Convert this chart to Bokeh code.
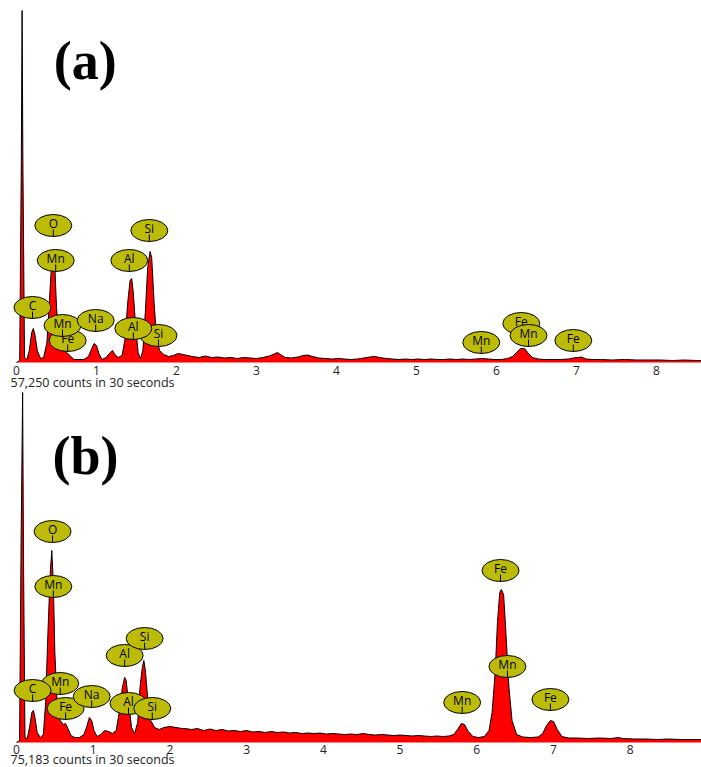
from bokeh.plotting import figure
from bokeh.models import Range1d, Label, FixedTicker
from bokeh.layouts import column
from bokeh.embed import file_html
from bokeh.resources import INLINE

# ---------------- data (energy keV, counts in relative units) ----------------
E_A = [0.00, 0.04, 0.06, 0.07, 0.08, 0.10, 0.13, 0.16, 0.19, 0.21, 0.23, 0.26, 0.30, 0.34,
       0.38, 0.41, 0.44, 0.46, 0.48, 0.50, 0.53, 0.56, 0.60, 0.64, 0.68, 0.72, 0.78, 0.84,
       0.90, 0.94, 0.97, 1.00, 1.03, 1.07, 1.12, 1.16, 1.20, 1.23, 1.27, 1.32, 1.36, 1.39,
       1.42, 1.44, 1.46, 1.49, 1.52, 1.55, 1.58, 1.61, 1.64, 1.67, 1.69, 1.72, 1.75, 1.79,
       1.84, 1.90, 1.96, 2.02, 2.08, 2.14,
       2.20, 2.28, 2.36, 2.44, 2.52, 2.60, 2.68, 2.76, 2.84, 2.92, 3.00, 3.08, 3.16, 3.22,
       3.26, 3.30, 3.36, 3.44, 3.52, 3.58, 3.64, 3.70, 3.78, 3.86, 3.94, 4.02, 4.10, 4.18,
       4.26, 4.34, 4.42, 4.48, 4.54, 4.62, 4.70, 4.78, 4.86, 4.94, 5.02, 5.10, 5.18, 5.26,
       5.34, 5.42, 5.50, 5.58, 5.66, 5.74, 5.82, 5.90, 5.98, 6.06, 6.14, 6.20, 6.25, 6.30,
       6.35, 6.40, 6.45, 6.52, 6.60, 6.70, 6.80, 6.90, 6.96, 7.02, 7.06, 7.12, 7.20, 7.30,
       7.45, 7.60, 7.75, 7.90, 8.05, 8.20, 8.35, 8.50, 8.60]
C_A = [0, 2, 200, 352, 200, 5, 3, 12, 30, 34, 28, 12, 4, 5,
       20, 60, 100, 113, 95, 55, 25, 16, 12, 9, 6, 3, 3, 3,
       6, 14, 19, 17, 9, 3, 5, 9, 12, 8, 5, 7, 25, 60,
       82, 84, 70, 35, 10, 4, 12, 50, 95, 111, 105, 60, 25, 12,
       8, 6, 7, 9, 8, 7,
       6, 5, 6.5, 5, 5.5, 4.5, 5, 4, 5, 4.5, 4, 5, 6.5, 8.5,
       10, 8, 5, 4.5, 5.5, 7, 7.5, 6, 4.5, 4, 3.5, 4, 3.5, 3,
       3.5, 4.5, 5.5, 6, 5, 4, 3.5, 3, 3.5, 3, 3.5, 3, 3.5, 3,
       3, 3.5, 3, 3.5, 3, 3.5, 4, 3.5, 3, 3, 4, 6, 10, 14,
       14, 9, 5, 3.5, 3, 3, 3, 3.5, 4.5, 5, 5.5, 3.5, 3, 3,
       2.5, 3, 2.5, 2.5, 2.5, 2, 2.5, 2, 2]

E_B = [0.00, 0.04, 0.06, 0.08, 0.09, 0.11, 0.14, 0.17, 0.20, 0.22, 0.24, 0.27, 0.31, 0.35,
       0.38, 0.41, 0.44, 0.46, 0.48, 0.50, 0.53, 0.57, 0.61, 0.64, 0.67, 0.71, 0.76, 0.82,
       0.88, 0.92, 0.95, 0.98, 1.01, 1.05, 1.10, 1.15, 1.20, 1.25, 1.30, 1.35, 1.38, 1.41,
       1.43, 1.46, 1.50, 1.54, 1.58, 1.61, 1.64, 1.66, 1.68, 1.71, 1.75, 1.80, 1.86, 1.92,
       2.00, 2.08, 2.16,
       2.20, 2.28, 2.36, 2.44, 2.52, 2.60, 2.68, 2.76, 2.84, 2.92, 3.00, 3.08, 3.16, 3.24,
       3.32, 3.40, 3.48, 3.56, 3.64, 3.72, 3.80, 3.88, 3.96, 4.04, 4.12, 4.20, 4.28, 4.36,
       4.44, 4.52, 4.60, 4.68, 4.76, 4.84, 4.92, 5.00, 5.08, 5.16, 5.24, 5.32, 5.40, 5.48,
       5.56, 5.64, 5.70, 5.75, 5.80, 5.84, 5.89, 5.95, 6.02, 6.10, 6.16, 6.20, 6.24, 6.27,
       6.30, 6.32, 6.35, 6.38, 6.42, 6.46, 6.52, 6.60, 6.70, 6.80, 6.86, 6.91, 6.96, 7.00,
       7.05, 7.11, 7.20, 7.30, 7.45, 7.60, 7.75, 7.85, 7.90, 8.05, 8.20, 8.35, 8.50, 8.65,
       8.80, 8.95]
C_B = [0, 2, 200, 350, 200, 5, 4, 15, 30, 32, 25, 10, 5, 8,
       40, 110, 170, 192, 160, 90, 40, 22, 18, 19, 14, 7, 5, 5,
       8, 17, 25, 22, 12, 6, 8, 12, 11, 9, 12, 35, 55, 65,
       62, 40, 15, 9, 20, 55, 75, 82, 72, 45, 22, 15, 13, 15,
       16, 15, 14,
       14, 13, 14, 12, 13.5, 12, 13, 11.5, 12, 11, 12, 10.5, 11, 10,
       11, 10, 10.5, 9.5, 10, 9, 9.5, 9, 9.5, 8.5, 9, 8.5, 8, 8.5,
       8, 9, 8, 7.5, 8, 7.5, 7, 7.5, 7, 6.5, 7, 6.5, 6, 6.5,
       6, 6.5, 8, 13, 19, 18, 11, 6, 5, 6, 12, 30, 70, 120,
       150, 153, 148, 110, 55, 22, 8, 5.5, 5, 5.5, 9, 17, 22, 21,
       13, 6, 4.5, 4.5, 4, 4.5, 4, 5, 4, 3.5, 3.5, 3, 3.5, 3,
       3, 3]

# peak labels: element, energy position, label height
LAB_A_EL = ["O", "Mn", "Fe", "C", "Mn", "Na", "Si", "Al", "Al", "Si", "Mn", "Fe", "Mn", "Fe"]
LAB_A_E = [0.46, 0.49, 0.64, 0.20, 0.575, 0.99, 1.775, 1.46, 1.41, 1.66, 5.81, 6.31, 6.40, 6.96]
LAB_A_H = [137, 102, 22, 55, 37, 42, 27, 34, 102, 132, 20, 39, 27, 22]

LAB_B_EL = ["O", "Mn", "Mn", "C", "Fe", "Na", "Al", "Si", "Al", "Si", "Mn", "Fe", "Mn", "Fe"]
LAB_B_E = [0.47, 0.48, 0.57, 0.21, 0.64, 0.98, 1.46, 1.77, 1.41, 1.67, 5.81, 6.31, 6.40, 6.96]
LAB_B_H = [211, 156, 59, 52, 34, 46, 39, 34, 87, 104, 40, 172, 76, 43]

TICKS = [0, 1, 2, 3, 4, 5, 6, 7, 8]
COUNTS_A = "57,250 counts in 30 seconds"
COUNTS_B = "75,183 counts in 30 seconds"

FONT = "Open Sans"
LABEL_FILL = "#bcbc08"


def panel(E, C, xr, yr, labs, tag, tag_pos, counts, counts_y, tick_standoff):
    frame_h = yr[1] - yr[0]
    p = figure(width=701, height=frame_h, output_backend="svg",
               toolbar_location=None, x_range=Range1d(*xr), y_range=Range1d(*yr),
               min_border_left=0, min_border_right=0, min_border_top=0,
               min_border_bottom=0)
    p.xgrid.visible = False
    p.ygrid.visible = False
    p.yaxis.visible = False
    p.outline_line_color = None
    p.background_fill_color = "white"
    ax = p.xaxis[0]
    ax.fixed_location = 0
    ax.ticker = FixedTicker(ticks=TICKS)
    ax.axis_line_color = None
    ax.major_tick_line_color = None
    ax.minor_tick_line_color = None
    ax.major_tick_out = 0
    ax.major_tick_in = 0
    ax.minor_tick_out = 0
    ax.major_label_text_font = FONT
    ax.major_label_text_font_size = "12px"
    ax.major_label_text_color = "#222222"
    ax.major_label_standoff = tick_standoff

    p.varea(x=E, y1=[0] * len(E), y2=C, fill_color="#ff0000")
    p.line(E, C, line_color="black", line_width=1)

    els, es, hs = labs
    for el, e, h in zip(els, es, hs):
        p.ellipse(x=[e], y=[h], width=37, height=22, width_units="screen",
                  height_units="screen", fill_color=LABEL_FILL, line_color="black",
                  line_width=1)
        p.segment(x0=[e], y0=[h - 4], x1=[e], y1=[h - 11], line_color="black",
                  line_width=1)
        p.text(x=[e], y=[h + 2], text=[el], text_align="center",
               text_baseline="middle", text_font_size="12px", text_color="black",
               text_font={"value": FONT})

    p.add_layout(Label(x=tag_pos[0], y=tag_pos[1], text=tag, text_align="center",
                       text_baseline="middle", text_font="Liberation Serif",
                       text_font_style="bold", text_font_size="54px",
                       text_color="black"))
    p.add_layout(Label(x=10, y=counts_y, x_units="screen", text=counts,
                       text_align="left", text_baseline="middle", text_font=FONT,
                       text_font_size="12.5px", text_color="#222222"))
    return p


pa = panel(E_A, C_A, (-0.2, 8.5625), (-28, 362), (LAB_A_EL, LAB_A_E, LAB_A_H),
           "(a)", (0.86, 302), COUNTS_A, -19.5, 3)
pb = panel(E_B, C_B, (-0.2086, 8.93), (-25, 352), (LAB_B_EL, LAB_B_E, LAB_B_H),
           "(b)", (0.90, 287), COUNTS_B, -16.5, 2)

layout = column(pa, pb, spacing=0)
open("out.html", "w").write(file_html(layout, INLINE))
